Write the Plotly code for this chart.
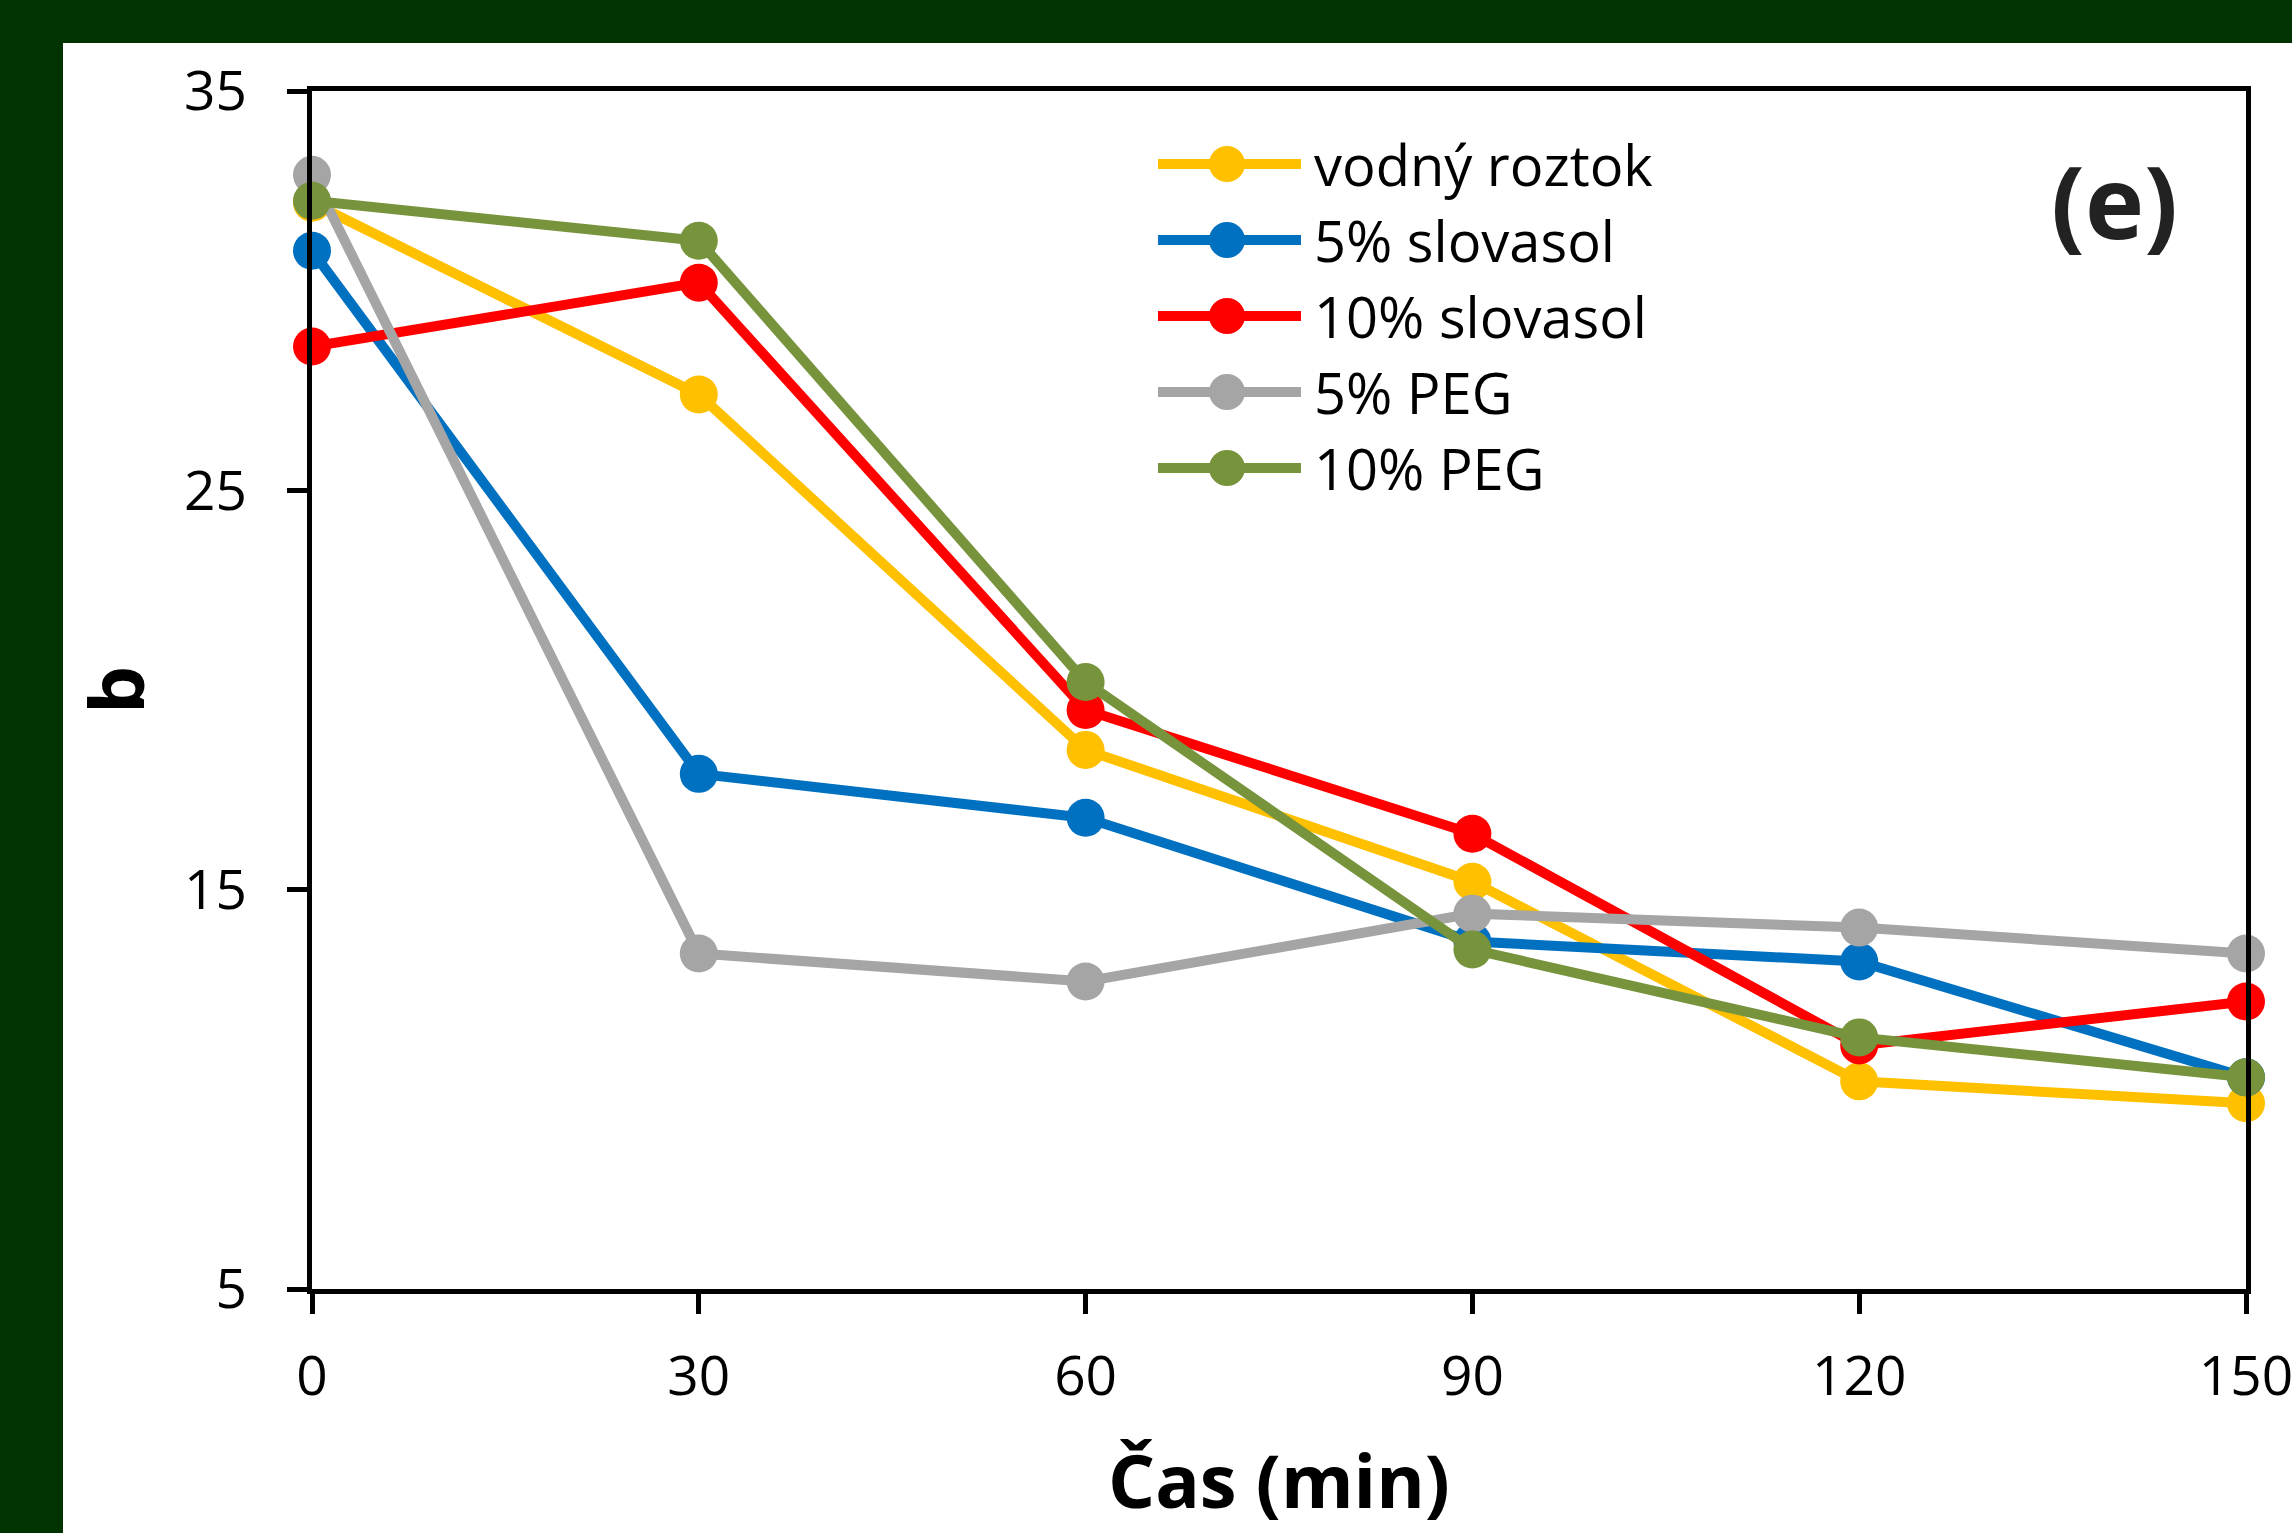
import plotly.graph_objects as go

# ---- data ----
time_min = [0, 30, 60, 90, 120, 150]
series_names = ["vodný roztok", "5% slovasol", "10% slovasol", "5% PEG", "10% PEG"]
vodny_roztok = [32.2, 27.4, 18.5, 15.2, 10.2, 9.65]
slovasol_5 = [31.0, 17.9, 16.8, 13.7, 13.2, 10.3]
slovasol_10 = [28.6, 30.2, 19.5, 16.4, 11.1, 12.2]
peg_5 = [32.9, 13.4, 12.7, 14.4, 14.05, 13.4]
peg_10 = [32.25, 31.25, 20.2, 13.5, 11.3, 10.3]
x_ticks = [0, 30, 60, 90, 120, 150]
y_ticks = [5, 15, 25, 35]

colors = ["#FFC000", "#0070C0", "#FF0000", "#A5A5A5", "#77933C"]
values = [vodny_roztok, slovasol_5, slovasol_10, peg_5, peg_10]

W, H = 2292, 1533
L, R, T, B = 312, 46, 91, 244
PW, PH = W - L - R, H - T - B


def px(xp):
    return (xp - L) / PW


def py(yp):
    return (H - B - yp) / PH


FONT = "Open Sans"

fig = go.Figure()
for name, vals, col in zip(series_names, values, colors):
    fig.add_trace(go.Scatter(
        x=time_min, y=vals, name=name, mode="lines+markers",
        line=dict(color=col, width=10),
        marker=dict(color=col, size=38),
        cliponaxis=False, showlegend=False,
    ))

shapes = []
annotations = []

# white panel on dark green background
shapes.append(dict(type="rect", xref="paper", yref="paper", layer="below",
                   x0=px(63), x1=px(W + 50), y0=py(H + 50), y1=py(43),
                   fillcolor="white", line=dict(width=0)))

# custom legend (long line keys like the original)
row0, row_gap = 164, 76
for i, (name, col) in enumerate(zip(series_names, colors)):
    yr = row0 + row_gap * i
    shapes.append(dict(type="line", xref="paper", yref="paper",
                       x0=px(1158), x1=px(1301), y0=py(yr), y1=py(yr),
                       line=dict(color=col, width=10)))
    shapes.append(dict(type="circle", xref="paper", yref="paper",
                       xsizemode="pixel", ysizemode="pixel",
                       xanchor=px(1227), yanchor=py(yr),
                       x0=-18, x1=18, y0=-18, y1=18,
                       fillcolor=col, line=dict(width=0)))
    annotations.append(dict(text=name, xref="paper", yref="paper",
                            x=px(1312), y=py(yr), xanchor="left", yanchor="middle",
                            showarrow=False,
                            font=dict(family=FONT, size=56, color="black")))

annotations.append(dict(text="<b>Čas (min)</b>", xref="paper", yref="paper",
                        x=0.5, y=py(1479), xanchor="center", yanchor="middle",
                        showarrow=False, font=dict(family=FONT, size=74, color="black")))
annotations.append(dict(text="<b>b</b>", xref="paper", yref="paper",
                        x=px(114), y=0.5, xanchor="center", yanchor="middle",
                        textangle=-90, showarrow=False,
                        font=dict(family=FONT, size=76, color="black")))
annotations.append(dict(text="<b>(e)</b>", xref="paper", yref="paper",
                        x=px(2114), y=py(200), xanchor="center", yanchor="middle",
                        showarrow=False, font=dict(family=FONT, size=100, color="#222222")))

axis_common = dict(showline=True, linecolor="black", linewidth=5, mirror=True,
                   ticks="outside", ticklen=20, tickwidth=5, tickcolor="black",
                   showgrid=False, zeroline=False, ticklabeloverflow="allow",
                   automargin=False,
                   tickfont=dict(family=FONT, size=55, color="black"))

fig.update_layout(
    width=W, height=H,
    margin=dict(l=L, r=R, t=T, b=B),
    paper_bgcolor="#013301",
    plot_bgcolor="white",
    xaxis=dict(range=[0, 150], tickvals=x_ticks, ticklabelstandoff=15, **axis_common),
    yaxis=dict(range=[5, 35], tickvals=y_ticks, ticklabelstandoff=29, **axis_common),
    shapes=shapes,
    annotations=annotations,
    showlegend=False,
)

fig.write_html("out.html")
